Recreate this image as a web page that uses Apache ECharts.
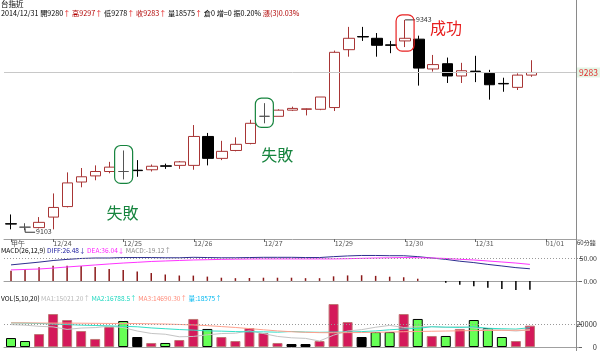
<!DOCTYPE html>
<html>
<head>
<meta charset="utf-8">
<script src="https://cdn.jsdelivr.net/npm/echarts@6/dist/echarts.min.js"></script>
<style>
html,body{margin:0;padding:0;background:#fff}
#box{width:600px;height:351px}
</style>
</head>
<body>
<div id="box"></div>
<script>
// 台指近 60分鐘K線
var lastDate = '2014/12/31';
var slotCount = 41;
var dateLabels = ['甲午','12/24','12/25','12/26','12/27','12/29','12/30','12/31','01/01'];
var dateIdx = [0, 3, 8, 13, 18, 23, 28, 33, 38];

// [open, close, low, high]
var ohlc = [
	[9110.5,9110,9104,9121],[9106.5,9106.5,9103,9111],[9106,9112,9105,9118],[9118,9129,9104,9145],
	[9130,9157,9129,9169],[9158,9164,9152,9174],[9165,9170,9160,9177],[9170,9175,9168,9181],
	[9170,9170,9161,9194],[9171.5,9171,9164,9183],[9172,9176,9170,9178],[9176.5,9176,9173,9179],
	[9177,9181,9173,9182],[9177,9210,9172,9223],[9210,9185,9177,9214],[9185,9193,9183,9205],
	[9194,9201,9193,9209],[9202,9225,9201,9229],[9233,9233,9225,9248],[9233,9240,9233,9241],
	[9240,9242,9239,9244],[9241,9241.5,9234,9242],[9241,9255,9240,9255],[9243,9306,9239,9308],
	[9309,9322,9301,9335],[9324,9323.5,9319,9335],[9322,9314,9301,9328],[9314.5,9314,9305,9319],
	[9319,9322,9312,9343],[9321,9288,9268,9325],[9287,9292,9284,9303],[9293,9279,9271,9300],
	[9279,9285,9271,9294],[9284.5,9284,9272,9302],[9282,9269,9252,9286],[9270.5,9270,9261,9277],
	[9266,9280,9263,9282],[9280,9283,9278,9297]
];
var vols = [7800,5200,11300,28700,23500,13900,7000,17400,22600,8700,3500,3500,6100,24400,15700,8700,5200,16500,12200,3500,
	2600,2600,5200,37400,21700,8700,13000,13000,28700,24400,9600,9600,15700,23500,16500,8700,5200,18575];
// 1 漲 / -1 跌 / 0 平
var volDir = [-1,-1,1,1,1,1,1,1,-1,0,1,-1,1,1,-1,1,1,1,1,1,0,0,1,1,1,0,-1,-1,1,-1,1,-1,1,-1,-1,-1,1,1];

var ma5 = [19500,19000,18000,17500,15300,16500,16900,18100,16900,13900,11800,11100,8900,9200,10600,11700,12000,14100,11700,9200,
	8000,7500,5200,10300,13900,15100,17200,18800,17000,17600,17700,17100,17600,16600,15000,14800,13900,15021.2];
var ma10 = [21000,20800,20500,20000,19500,19000,18700,18400,18000,17600,16600,15900,15200,14700,14000,13800,13400,13200,13200,12900,
	13500,13000,12800,13000,13000,13400,14000,15000,15700,16200,17600,17300,17000,17600,16300,15900,15600,16788.5];
var ma20 = [21000,21000,20900,20800,20800,20700,20600,20500,20500,20400,20200,20000,19600,19200,18600,17800,17000,16000,15000,14000,
	13300,12800,12500,12400,12500,12600,12800,13000,13300,13500,13700,13900,14100,14300,14400,14500,14600,14690.3];

var diff = [35,38,41,44.5,47,49,50,50,51,51,51,50.5,50.5,51.5,51,50.5,50.5,51,51.5,51.5,
	51.5,51,51,53,54.5,55.5,55.5,55,55,53,50,47,43,40,36,32.6,29,26.48];
var dea = [24,25,26,28,30.4,32.6,34.8,37,39,40.6,42.4,43.5,44.6,45.7,46.3,47,47.5,47.8,48,48,
	48,48,48,48,48.5,49.3,50,50.4,51,50.6,50,49,47.2,45.7,43.5,41.3,39,36.04];

var noteIdx = [8, 18, 28];
var noteText = ['失敗', '失敗', '成功'];

var font = '"Noto Sans CJK TC", sans-serif';
var upColor = '#a83535';

var cats = [];
var tickText = {};
for (var i = 0; i < slotCount; i++) cats.push(String(i));
dateIdx.forEach(function (k, j) { tickText[k] = dateLabels[j]; });

var hist = diff.map(function (d, i) { return +(2 * (d - dea[i])).toFixed(2); });
var volData = vols.map(function (v, i) {
	var d = volDir[i];
	return {
		value: v,
		itemStyle: d > 0 ? {color: '#d4195a', borderColor: '#c07575', borderWidth: 1}
			: d < 0 ? {color: '#66ff55', borderColor: '#000', borderWidth: 1}
			: {color: '#000', borderColor: '#000', borderWidth: 1}
	};
});

var last = ohlc[ohlc.length - 1];
var prevClose = ohlc[ohlc.length - 2][1];
var lastVol = vols[vols.length - 1];
var chg = last[1] - prevClose;
var amp = ((last[3] - last[2]) / prevClose * 100).toFixed(2);
var pct = (chg / prevClose * 100).toFixed(2);
var n = diff.length - 1;

var box = document.getElementById('box');
var chart = echarts.init(box);

var xCommon = {
	type: 'category', data: cats, boundaryGap: true,
	axisTick: {show: false}, axisLabel: {show: false},
	axisLine: {lineStyle: {color: '#a0a0a0', width: 1}}
};

var option = {
	animation: false,
	backgroundColor: '#fff',
	textStyle: {fontFamily: font},
	grid: [
		{left: 4, width: 577, top: 12, height: 227},
		{left: 4, width: 577, top: 247, height: 44},
		{left: 4, width: 577, top: 293, height: 54}
	],
	xAxis: [
		{
			type: 'category', data: cats, gridIndex: 0, boundaryGap: true,
			axisLine: {lineStyle: {color: '#a0a0a0'}},
			axisTick: {
				show: true, alignWithLabel: true, length: 3, lineStyle: {color: '#666'},
				interval: function (i) { return tickText[i] !== undefined; }
			},
			axisLabel: {
				fontSize: 7, color: '#555', align: 'left', margin: 1,
				interval: function (i) { return tickText[i] !== undefined; },
				formatter: function (v, i) { return tickText[i] || ''; }
			}
		},
		Object.assign({gridIndex: 1, position: 'top'}, xCommon),
		Object.assign({gridIndex: 2, position: 'top'}, xCommon)
	],
	yAxis: [
		{gridIndex: 0, min: 9093, max: 9352, show: false},
		{
			gridIndex: 1, position: 'right', min: -22, max: 74,
			splitLine: {show: false}, axisLine: {show: false},
			axisTick: {show: true, customValues: [0, 50], length: 3, lineStyle: {color: '#666'}},
			axisLabel: {customValues: [0, 50], fontSize: 7, color: '#333', align: 'right', margin: 18,
				formatter: function (v) { return v.toFixed(2); }}
		},
		{
			gridIndex: 2, position: 'right', min: 0, max: 47000,
			splitLine: {show: false}, axisLine: {show: false},
			axisTick: {show: true, customValues: [0, 20000], length: 3, lineStyle: {color: '#666'}},
			axisLabel: {customValues: [0, 20000], fontSize: 7.5, color: '#333', align: 'right', margin: 18,
				formatter: function (v) { return String(v); }}
		}
	],
	series: [
		{
			type: 'candlestick', xAxisIndex: 0, yAxisIndex: 0, data: ohlc, barWidth: 11,
			itemStyle: {color: '#fff', color0: '#000', borderColor: upColor, borderColor0: '#000', borderColorDoji: '#555', borderWidth: 1},
			markLine: {
				silent: true, symbol: 'none', label: {show: false},
				lineStyle: {color: '#c8c8c8', type: 'solid', width: 1},
				data: [{yAxis: last[1]}]
			}
		},
		{
			type: 'bar', xAxisIndex: 1, yAxisIndex: 1, data: hist, barWidth: 1.5,
			itemStyle: {color: function (p) { return p.value >= 0 ? '#8b1a1a' : '#000'; }},
			markLine: {
				silent: true, symbol: 'none', label: {show: false},
				lineStyle: {color: '#999', type: [1, 2], width: 1},
				data: [{yAxis: 50}]
			}
		},
		{type: 'line', xAxisIndex: 1, yAxisIndex: 1, data: diff, symbol: 'none', lineStyle: {color: '#2e2e90', width: 1}},
		{type: 'line', xAxisIndex: 1, yAxisIndex: 1, data: dea, symbol: 'none', lineStyle: {color: '#ff33ff', width: 1}},
		{
			type: 'bar', xAxisIndex: 2, yAxisIndex: 2, data: volData, barWidth: 10,
			markLine: {
				silent: true, symbol: 'none', label: {show: false},
				lineStyle: {color: '#999', type: [1, 2], width: 1},
				data: [{yAxis: 20000}]
			}
		},
		{type: 'line', xAxisIndex: 2, yAxisIndex: 2, data: ma5, symbol: 'none', lineStyle: {color: '#c4c4c4', width: 1}},
		{type: 'line', xAxisIndex: 2, yAxisIndex: 2, data: ma10, symbol: 'none', lineStyle: {color: '#33e0c8', width: 1}},
		{type: 'line', xAxisIndex: 2, yAxisIndex: 2, data: ma20, symbol: 'none', lineStyle: {color: '#ff9f8c', width: 1}}
	]
};
chart.setOption(option);

// 標題與註記
var hf = '7.2px ' + font;
var sf = '6.6px ' + font;
var g = [];
g.push({type: 'line', shape: {x1: 576.5, y1: 0, x2: 576.5, y2: 351}, style: {stroke: '#8a8a8a', lineWidth: 1}, z: 10});
g.push({type: 'rect', shape: {x: 577, y: 239.5, width: 23, height: 7.5}, style: {fill: '#fff'}, z: 9});
g.push({type: 'text', x: 1, y: 0, style: {text: '台指近', font: '7.5px ' + font, fill: '#000'}, z: 10});
g.push({
	type: 'text', x: 1, y: 10, z: 10,
	style: {
		text: '{k|' + lastDate + ' 開' + last[0] + '}{u|↑}{r| 高' + last[3] + '}{u|↑}{k| 低' + last[2] + '}{u|↑}{r| 收' + last[1] +
			'}{u|↑}{k| 量' + lastVol + '}{u|↑}{k| 倉0 增=0 振' + amp + '%}{r| 漲(' + chg + ')' + pct + '%}',
		font: hf,
		rich: {
			k: {fill: '#000', font: hf},
			r: {fill: '#b00000', font: hf},
			u: {fill: '#e00000', font: hf}
		}
	}
});
g.push({
	type: 'text', x: 1, y: 247, z: 10,
	style: {
		text: '{k|MACD(26,12,9) }{b|DIFF:' + diff[n].toFixed(2) + '↓ }{m|DEA:' + dea[n].toFixed(2) + '↓ }{g|MACD:' + hist[n].toFixed(2) + '↑}',
		font: sf,
		rich: {
			k: {fill: '#000', font: sf},
			b: {fill: '#2020a0', font: sf},
			m: {fill: '#ff20ff', font: sf},
			g: {fill: '#888', font: sf}
		}
	}
});
g.push({
	type: 'text', x: 1, y: 295, z: 10,
	style: {
		text: '{k|VOL(5,10,20) }{a|MA1:' + ma5[n].toFixed(2) + '↑ }{b|MA2:' + ma10[n] + '↑ }{c|MA3:' + ma20[n].toFixed(2) + '↑ }{d|量:' + lastVol + '↑}',
		font: sf,
		rich: {
			k: {fill: '#000', font: sf},
			a: {fill: '#b8b8b8', font: sf},
			b: {fill: '#20d8c0', font: sf},
			c: {fill: '#ff8a78', font: sf},
			d: {fill: '#00b8f0', font: sf}
		}
	}
});
g.push({type: 'text', x: 577, y: 240, style: {text: '60分鐘', font: '6px ' + font, fill: '#333'}, z: 10});

function px(i, v) { return chart.convertToPixel({gridIndex: 0}, [i, v]); }

// 最新價標籤
var cp = px(ohlc.length - 1, last[1]);
g.push({type: 'rect', shape: {x: 577, y: cp[1] - 5, width: 23, height: 10}, style: {fill: '#e4f4e4'}, z: 10});
g.push({type: 'text', x: 579, y: cp[1], style: {text: String(last[1]), font: '8.5px ' + font, fill: '#e03030', verticalAlign: 'middle'}, z: 11});

// 最高 / 最低
var hiI = 0, loI = 0;
ohlc.forEach(function (d, i) {
	if (d[3] > ohlc[hiI][3]) hiI = i;
	if (d[2] < ohlc[loI][2]) loI = i;
});
var hp = px(hiI, ohlc[hiI][3]);
g.push({type: 'polyline', shape: {points: [[hp[0], hp[1]], [hp[0] + 10, hp[1]]]}, style: {stroke: '#333', lineWidth: 1}, z: 10});
g.push({type: 'text', x: hp[0] + 11, y: hp[1] - 4, style: {text: String(ohlc[hiI][3]), font: '7px ' + font, fill: '#333'}, z: 10});
var lp = px(loI, ohlc[loI][2]);
g.push({type: 'polyline', shape: {points: [[lp[0], lp[1] - 2], [lp[0], lp[1] + 2], [lp[0] + 10, lp[1] + 2]]}, style: {stroke: '#333', lineWidth: 1}, z: 10});
g.push({type: 'text', x: lp[0] + 11, y: lp[1] - 2, style: {text: String(ohlc[loI][2]), font: '7px ' + font, fill: '#333'}, z: 10});

// 失敗 / 成功 圈註
var noteOff = [[-1, 34, 'low'], [13, 32, 'low'], [41, 8, 'high']];
noteIdx.forEach(function (k, j) {
	var d = ohlc[k];
	var top = px(k, d[3]);
	var bot = px(k, d[2]);
	var col = noteText[j] === '成功' ? '#e82020' : '#16843e';
	g.push({
		type: 'rect', z: 10,
		shape: {x: top[0] - 9, y: top[1] - 5, width: 18, height: bot[1] - top[1] + 9, r: 6},
		style: {fill: 'none', stroke: col, lineWidth: 1.2}
	});
	var o = noteOff[j];
	var base = o[2] === 'low' ? bot : top;
	g.push({
		type: 'text', z: 10, x: base[0] + o[0], y: base[1] + o[1],
		style: {text: noteText[j], font: '16px ' + font, fill: col, align: 'center', verticalAlign: 'middle'}
	});
});

chart.setOption({graphic: g});
</script>
</body>
</html>
